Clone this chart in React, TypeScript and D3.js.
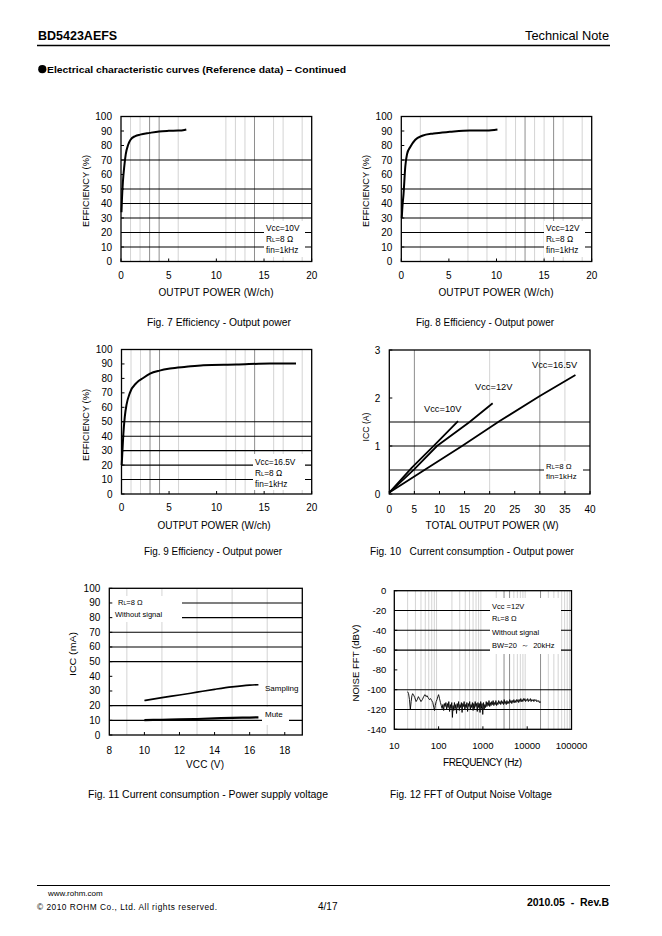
import React from "react";
import * as d3 from "d3";

const FONT = "'Liberation Sans', Arial, Helvetica, sans-serif";

// ---------------- DATA ----------------
// Fig. 7  Vcc=10V
const fig7Pout = [0.05, 0.1, 0.2, 0.35, 0.5, 0.75, 1.0, 1.5, 2.0, 3.0, 4.0, 5.0, 6.0, 6.5, 6.85];
const fig7Eff = [34, 43, 55, 66, 74, 80.5, 84, 86.5, 87.5, 88.7, 89.7, 90.1, 90.3, 90.5, 91];
// Fig. 8  Vcc=12V
const fig8Pout = [0.05, 0.1, 0.24, 0.42, 0.6, 0.94, 1.47, 2.2, 3.4, 5.1, 7.2, 9.0, 10.1];
const fig8Eff = [30, 36, 47, 65.5, 74, 79, 84, 86.7, 88.3, 89.4, 90.3, 90.3, 91];
// Fig. 9  Vcc=16.5V
const fig9Pout = [0.02, 0.18, 0.35, 0.53, 0.88, 1.58, 2.28, 3.0, 4.0, 5.1, 6.8, 8.6, 12.1, 15.6, 18.35];
const fig9Eff = [20, 40, 53.7, 61.8, 70, 76.9, 80.3, 83.3, 85.4, 86.8, 88, 89.1, 89.6, 90.3, 90.3];

const effXTicks = [0, 5, 10, 15, 20];
const effYTicks = [0, 10, 20, 30, 40, 50, 60, 70, 80, 90, 100];

// Fig. 10  ICC vs total output power
const icc10Pout = [0, 4.5, 9, 13.7];
const icc10A = [0.03, 0.55, 1.02, 1.52];
const icc12Pout = [0, 5, 9.5, 16, 20.6];
const icc12A = [0.03, 0.52, 1.0, 1.5, 1.89];
const icc165Pout = [0, 7, 14.5, 22, 30, 37.1];
const icc165A = [0.03, 0.5, 1.0, 1.52, 2.04, 2.48];
const iccXTicks = [0, 5, 10, 15, 20, 25, 30, 35, 40];
const iccYTicks = [0, 1, 2, 3];

// Fig. 11  ICC vs VCC
const vccV = [10, 11, 12, 13, 14, 15, 16, 16.5];
const samplingMA = [23.5, 25.5, 27.3, 29.2, 31.1, 32.8, 34.0, 34.3];
const muteMA = [10.2, 10.4, 10.6, 10.9, 11.3, 11.7, 11.9, 12.0];
const vccXTicks = [8, 10, 12, 14, 16, 18];
const vccYTicks = [0, 10, 20, 30, 40, 50, 60, 70, 80, 90, 100];

// Fig. 12  Noise FFT  [Hz, dBV]
const noiseFft: [number, number][] = [
  [20, -102], [21, -104], [22, -110], [23, -120], [24, -112], [25, -106], [26, -104], [27, -105],
  [29, -108], [31, -112], [33, -110], [35, -107], [37, -109], [40, -112], [43, -110], [46, -107],
  [49, -105], [52, -107], [55, -106], [58, -108], [62, -110], [66, -109], [70, -111], [74, -113],
  [78, -118], [81, -121], [84, -116], [88, -112], [92, -110], [96, -107], [100, -105], [105, -109],
  [110, -113], [115, -116], [120, -119], [125, -115], [130, -121], [135, -114], [140, -117], [146, -113],
  [152, -120], [158, -114], [164, -118], [170, -112], [177, -122], [184, -115], [191, -119], [198, -113],
  [205, -128], [212, -116], [220, -121], [228, -113], [236, -119], [245, -115], [254, -124], [263, -114],
  [273, -118], [283, -112], [293, -121], [304, -115], [315, -118], [327, -113], [339, -123], [351, -114],
  [364, -117], [377, -112], [391, -120], [405, -115], [420, -118], [435, -113], [451, -122], [468, -114],
  [485, -117], [503, -112], [521, -120], [540, -115], [560, -118], [580, -113], [601, -121], [623, -114],
  [646, -119], [670, -112], [694, -117], [720, -114], [746, -122], [773, -113], [801, -118], [830, -114],
  [861, -123], [892, -112], [925, -119], [958, -114], [993, -125], [1030, -113], [1067, -120], [1106, -115],
  [1147, -118], [1189, -112], [1232, -117], [1277, -113], [1324, -116], [1372, -111], [1422, -117], [1474, -113],
  [1528, -116], [1584, -112], [1642, -115], [1702, -111], [1764, -116], [1829, -113], [1896, -115], [1965, -111],
  [2037, -116], [2111, -113], [2188, -115], [2268, -111], [2351, -114], [2437, -112], [2526, -115], [2618, -111],
  [2714, -114], [2813, -112], [2916, -115], [3022, -110], [3133, -114], [3247, -112], [3366, -115], [3489, -111],
  [3616, -114], [3748, -112], [3885, -114], [4027, -110], [4174, -113], [4327, -111], [4485, -114], [4649, -111],
  [4819, -113], [4995, -110], [5177, -113], [5367, -111], [5563, -113], [5766, -110], [5977, -112], [6195, -110],
  [6422, -113], [6656, -110], [6900, -112], [7152, -109], [7413, -112], [7684, -110], [7965, -112], [8256, -109],
  [8558, -111], [8870, -109], [9195, -112], [9530, -110], [9879, -111], [10240, -109], [10614, -112], [11000, -110],
  [11404, -111], [11820, -109], [12252, -112], [12700, -110], [13164, -111], [13645, -110], [14144, -112], [14660, -110],
  [15196, -111], [15751, -110], [16327, -112], [16924, -111], [17542, -112], [18183, -111], [18848, -113], [19537, -112],
  [20000, -113],
];
const fftXTicks = [10, 100, 1000, 10000, 100000];
const fftYTicks = [0, -20, -40, -60, -80, -100, -120, -140];

// ---------------- LAYOUT ----------------
type Box = { l: number; t: number; r: number; b: number };
const B1: Box = { l: 121, t: 116.5, r: 311.7, b: 261.5 };
const B2: Box = { l: 401.3, t: 116.5, r: 591.7, b: 261.5 };
const B3: Box = { l: 121.5, t: 349.5, r: 311.7, b: 494 };
const B4: Box = { l: 389.3, t: 350, r: 590, b: 494 };
const B5: Box = { l: 109.3, t: 588.3, r: 302.3, b: 735 };
const B6: Box = { l: 394.3, t: 590.7, r: 571.5, b: 729.3 };

const LIGHT = "#d4d4d4";
const DARK = "#8e8e8e";
const NB = "\u00a0";

type PanelProps = {
  box: Box;
  xs: any;
  ys: any;
  xTicks: number[];
  yTicks: number[];
  hLines: number[];
  vLight: number[];
  vDark: number[];
  xLabelY: number;
  yLabelX: number;
  fs?: number;
  xTickMarks?: number[];
  notes?: React.ReactNode;
  children?: React.ReactNode;
};

function Panel(p: PanelProps) {
  const { box, xs, ys } = p;
  const fs = p.fs ?? 10;
  const tm = p.xTickMarks ?? p.xTicks;
  return (
    <g>
      {p.vLight.map((v) => (
        <line key={"vl" + v} x1={xs(v)} x2={xs(v)} y1={box.t} y2={box.b} stroke={LIGHT} strokeWidth={1} />
      ))}
      {p.vDark.map((v) => (
        <line key={"vd" + v} x1={xs(v)} x2={xs(v)} y1={box.t} y2={box.b} stroke={DARK} strokeWidth={1} />
      ))}
      {p.hLines.map((v) => (
        <line key={"h" + v} x1={box.l} x2={box.r} y1={ys(v)} y2={ys(v)} stroke="#000" strokeWidth={1.1} />
      ))}
      {p.notes}
      {p.children}
      <rect x={box.l} y={box.t} width={box.r - box.l} height={box.b - box.t} fill="none" stroke="#000" strokeWidth={1.3} />
      {tm.map((v) => (
        <line key={"xt" + v} x1={xs(v)} x2={xs(v)} y1={box.b} y2={box.b - 3} stroke="#000" strokeWidth={1} />
      ))}
      {p.yTicks.map((v) => (
        <line key={"yt" + v} x1={box.l} x2={box.l + 3} y1={ys(v)} y2={ys(v)} stroke="#000" strokeWidth={1} />
      ))}
      {p.xTicks.map((v) => (
        <text key={"xl" + v} x={xs(v)} y={p.xLabelY} fontSize={fs} textAnchor="middle" fill="#000">
          {String(v)}
        </text>
      ))}
      {p.yTicks.map((v) => (
        <text key={"yl" + v} x={p.yLabelX} y={ys(v) + fs * 0.35} fontSize={fs} textAnchor="end" fill="#000">
          {String(v)}
        </text>
      ))}
    </g>
  );
}

function RL({ x, y, fs }: { x: number; y: number; fs: number }) {
  return (
    <text x={x} y={y} fontSize={fs} fill="#000">
      R<tspan fontSize={fs * 0.7}>L</tspan>=8 Ω
    </text>
  );
}

function YTitle({ x, y, text, len }: { x: number; y: number; text: string; len?: number }) {
  return (
    <text
      transform={`translate(${x},${y}) rotate(-90)`}
      textAnchor="middle"
      fontSize={9.8}
      fill="#000"
      textLength={len}
      lengthAdjust="spacingAndGlyphs"
    >
      {text}
    </text>
  );
}

function XTitle({ x, y, text, len }: { x: number; y: number; text: string; len?: number }) {
  return (
    <text x={x} y={y} textAnchor="middle" fontSize={10} fill="#000" textLength={len} lengthAdjust="spacing">
      {text}
    </text>
  );
}

function Caption({ x, y, text, len }: { x: number; y: number; text: string; len: number }) {
  return (
    <text x={x} y={y} textAnchor="middle" fontSize={10} fill="#000" textLength={len} lengthAdjust="spacingAndGlyphs">
      {text}
    </text>
  );
}

function zip(a: number[], b: number[]): [number, number][] {
  return a.map((v, i) => [v, b[i]]);
}

function EffPanel({
  box,
  pout,
  eff,
  hLines,
  vLight,
  vDark,
  noteBox,
  vccText,
}: {
  box: Box;
  pout: number[];
  eff: number[];
  hLines: number[];
  vLight: number[];
  vDark: number[];
  noteBox: { x: number; y: number; w: number; h: number; tx: number; ty: number };
  vccText: string;
}) {
  const xs = d3.scaleLinear().domain([0, 20]).range([box.l, box.r]);
  const ys = d3.scaleLinear().domain([0, 100]).range([box.b, box.t]);
  const line = d3
    .line<[number, number]>()
    .x((d) => xs(d[0]))
    .y((d) => ys(d[1]))
    .curve(d3.curveMonotoneX);
  return (
    <Panel
      box={box}
      xs={xs}
      ys={ys}
      xTicks={effXTicks}
      yTicks={effYTicks}
      hLines={hLines}
      vLight={vLight}
      vDark={vDark}
      xLabelY={box.b + 17}
      yLabelX={box.l - 9}
      notes={
        <g>
          <rect x={noteBox.x} y={noteBox.y} width={noteBox.w} height={noteBox.h} fill="#fff" />
          <text x={noteBox.tx} y={noteBox.ty} fontSize={8.3} fill="#000">
            {vccText}
          </text>
          <RL x={noteBox.tx} y={noteBox.ty + 11} fs={8.3} />
          <text x={noteBox.tx} y={noteBox.ty + 22} fontSize={8.3} fill="#000">
            fin=1kHz
          </text>
        </g>
      }
    >
      <path d={line(zip(pout, eff)) || ""} fill="none" stroke="#000" strokeWidth={2} strokeLinejoin="round" />
    </Panel>
  );
}

function IccPanel() {
  const box = B4;
  const xs = d3.scaleLinear().domain([0, 40]).range([box.l, box.r]);
  const ys = d3.scaleLinear().domain([0, 3]).range([box.b, box.t]);
  const line = d3
    .line<[number, number]>()
    .x((d) => xs(d[0]))
    .y((d) => ys(d[1]));
  return (
    <Panel
      box={box}
      xs={xs}
      ys={ys}
      xTicks={iccXTicks}
      yTicks={iccYTicks}
      hLines={[0.5, 1, 1.5]}
      vLight={[20, 35]}
      vDark={[5, 30]}
      xLabelY={box.b + 18.5}
      yLabelX={box.l - 9}
      notes={
        <g>
          <rect x={544} y={461} width={39} height={19} fill="#fff" />
          <RL x={546} y={469} fs={7.8} />
          <text x={546} y={478.5} fontSize={7.8} fill="#000">
            fin=1kHz
          </text>
        </g>
      }
    >
      <path d={line(zip(icc10Pout, icc10A)) || ""} fill="none" stroke="#000" strokeWidth={1.8} />
      <path d={line(zip(icc12Pout, icc12A)) || ""} fill="none" stroke="#000" strokeWidth={1.8} />
      <path d={line(zip(icc165Pout, icc165A)) || ""} fill="none" stroke="#000" strokeWidth={1.8} />
      <text x={424} y={411.5} fontSize={9.3} fill="#000">Vcc=10V</text>
      <text x={475} y={390} fontSize={9.3} fill="#000">Vcc=12V</text>
      <text x={532} y={367.5} fontSize={9.3} fill="#000">Vcc=16.5V</text>
    </Panel>
  );
}

function VccPanel() {
  const box = B5;
  const xs = d3.scaleLinear().domain([8, 19]).range([box.l, box.r]);
  const ys = d3.scaleLinear().domain([0, 100]).range([box.b, box.t]);
  const line = d3
    .line<[number, number]>()
    .x((d) => xs(d[0]))
    .y((d) => ys(d[1]))
    .curve(d3.curveMonotoneX);
  return (
    <Panel
      box={box}
      xs={xs}
      ys={ys}
      xTicks={vccXTicks}
      yTicks={vccYTicks}
      hLines={[10, 20, 50, 60, 70, 80, 90]}
      vLight={[9, 11, 13, 15, 17]}
      vDark={[]}
      xLabelY={box.b + 18.5}
      yLabelX={box.l - 9}
      xTickMarks={[10, 12, 14, 16, 18]}
      notes={
        <g>
          <rect x={110} y={596} width={72} height={26} fill="#fff" />
          <RL x={118} y={604.5} fs={7.5} />
          <text x={115} y={617} fontSize={7.5} fill="#000">Without signal</text>
          <rect x={262} y={707} width={27} height={18} fill="#fff" />
          <text x={265} y={691} fontSize={8} fill="#000">Sampling</text>
          <text x={265} y={717} fontSize={8} fill="#000">Mute</text>
        </g>
      }
    >
      <path d={line(zip(vccV, samplingMA)) || ""} fill="none" stroke="#000" strokeWidth={1.6} />
      <path d={line(zip(vccV, muteMA)) || ""} fill="none" stroke="#000" strokeWidth={2.2} />
    </Panel>
  );
}

function FftPanel() {
  const box = B6;
  const xs = d3.scaleLog().domain([10, 100000]).range([box.l, box.r]);
  const ys = d3.scaleLinear().domain([-140, 0]).range([box.b, box.t]);
  const line = d3
    .line<[number, number]>()
    .x((d) => xs(d[0]))
    .y((d) => ys(d[1]));
  const minor: number[] = [];
  [10, 100, 1000, 10000].forEach((dec) => {
    for (let k = 2; k <= 9; k++) minor.push(dec * k);
  });
  const dark = [3000, 4000, 20000];
  return (
    <Panel
      box={box}
      xs={xs}
      ys={ys}
      xTicks={fftXTicks}
      yTicks={fftYTicks}
      hLines={[-20, -40, -60, -100, -120]}
      vLight={minor.filter((m) => !dark.includes(m))}
      vDark={dark}
      xLabelY={749}
      yLabelX={box.l - 8}
      fs={9.5}
      xTickMarks={[100, 1000, 10000]}
      notes={
        <g>
          <rect x={490} y={598} width={71} height={56} fill="#fff" />
          <text x={492} y={608.5} fontSize={7.5} fill="#000">Vcc =12V</text>
          <RL x={492} y={621} fs={7.5} />
          <text x={492} y={635} fontSize={7.5} fill="#000">Without signal</text>
          <text x={492} y={648} fontSize={7.5} fill="#000">{`BW=20${NB}${NB}～${NB}${NB}20kHz`}</text>
        </g>
      }
    >
      <path d={line(noiseFft) || ""} fill="none" stroke="#000" strokeWidth={0.9} strokeLinejoin="round" />
    </Panel>
  );
}

export default function App() {
  return (
    <svg
      width={662}
      height={936}
      viewBox="0 0 662 936"
      style={{ position: "absolute", left: 0, top: 0, background: "#fff" }}
      fontFamily={FONT}
    >
      <rect x={0} y={0} width={662} height={936} fill="#fff" />
      {/* header */}
      <text x={38} y={39.5} fontSize={12.5} fontWeight="bold" fill="#000">BD5423AEFS</text>
      <text x={609} y={39.5} fontSize={12.8} textAnchor="end" fill="#000">Technical Note</text>
      <line x1={37} x2={610} y1={45.5} y2={45.5} stroke="#000" strokeWidth={1.4} />
      <circle cx={42.3} cy={69.2} r={4.1} fill="#000" />
      <text x={47} y={72.5} fontSize={9.5} fontWeight="bold" fill="#000" textLength={299} lengthAdjust="spacingAndGlyphs">
        Electrical characteristic curves (Reference data) – Continued
      </text>

      {/* Fig 7 */}
      <EffPanel
        box={B1}
        pout={fig7Pout}
        eff={fig7Eff}
        hLines={[10, 20, 30, 40, 50, 70]}
        vLight={[1, 2, 6, 11, 12, 13, 16, 17, 19]}
        vDark={[3, 4, 14]}
        noteBox={{ x: 264, y: 221, w: 41, h: 36, tx: 266, ty: 231 }}
        vccText="Vcc=10V"
      />
      <XTitle x={216} y={296} text="OUTPUT POWER (W/ch)" len={115} />
      <YTitle x={88.5} y={191} text="EFFICIENCY (%)" len={72} />
      <Caption x={219} y={326} text="Fig. 7 Efficiency - Output power" len={144} />

      {/* Fig 8 */}
      <EffPanel
        box={B2}
        pout={fig8Pout}
        eff={fig8Eff}
        hLines={[10, 20, 30, 40, 50, 70]}
        vLight={[2, 7, 9, 11, 12, 14, 15, 17, 19]}
        vDark={[13, 16]}
        noteBox={{ x: 544, y: 221, w: 41, h: 36, tx: 546, ty: 231 }}
        vccText="Vcc=12V"
      />
      <XTitle x={496} y={296} text="OUTPUT POWER (W/ch)" len={115} />
      <YTitle x={368.5} y={191} text="EFFICIENCY (%)" len={72} />
      <Caption x={485} y={326} text="Fig. 8 Efficiency - Output power" len={138} />

      {/* Fig 9 */}
      <EffPanel
        box={B3}
        pout={fig9Pout}
        eff={fig9Eff}
        hLines={[10, 20, 30, 40, 50]}
        vLight={[1, 2, 6, 11, 12, 13, 16, 17, 19]}
        vDark={[3, 4, 14]}
        noteBox={{ x: 253, y: 454, w: 52, h: 36, tx: 255, ty: 464.5 }}
        vccText="Vcc=16.5V"
      />
      <XTitle x={214} y={528.5} text="OUTPUT POWER (W/ch)" len={113} />
      <YTitle x={88.5} y={425} text="EFFICIENCY (%)" len={72} />
      <Caption x={213} y={555} text="Fig. 9 Efficiency - Output power" len={138} />

      {/* Fig 10 */}
      <IccPanel />
      <XTitle x={492} y={528.5} text="TOTAL OUTPUT POWER (W)" len={133} />
      <YTitle x={368.5} y={427} text="ICC (A)" len={29} />
      <Caption x={472} y={555} text={`Fig. 10${NB}${NB}${NB}Current consumption - Output power`} len={204} />

      {/* Fig 11 */}
      <VccPanel />
      <XTitle x={205} y={768} text="VCC (V)" len={38} />
      <YTitle x={76} y={654} text="ICC (mA)" len={44} />
      <Caption x={208} y={798} text="Fig. 11 Current consumption - Power supply voltage" len={240} />

      {/* Fig 12 */}
      <FftPanel />
      <XTitle x={482.5} y={766} text="FREQUENCY (Hz)" len={79} />
      <YTitle x={358.5} y={663} text="NOISE FFT (dBV)" len={77} />
      <Caption x={471} y={798} text="Fig. 12 FFT of Output Noise Voltage" len={162} />

      {/* footer */}
      <line x1={37} x2={610} y1={885.5} y2={885.5} stroke="#000" strokeWidth={1} />
      <text x={48} y={896} fontSize={8} fill="#000">www.rohm.com</text>
      <text x={37} y={910} fontSize={8.3} fill="#000" textLength={180} lengthAdjust="spacing">
        © 2010 ROHM Co., Ltd. All rights reserved.
      </text>
      <text x={318} y={910} fontSize={10} fill="#000">4/17</text>
      <text x={609} y={906} fontSize={10.5} fontWeight="bold" textAnchor="end" fill="#000">
        {`2010.05${NB}${NB}-${NB}${NB}Rev.B`}
      </text>
    </svg>
  );
}
